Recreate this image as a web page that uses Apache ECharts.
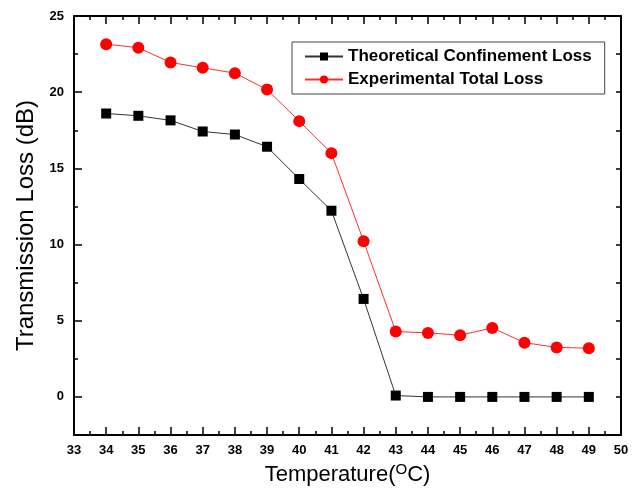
<!DOCTYPE html>
<html><head><meta charset="utf-8">
<script src="https://cdn.jsdelivr.net/npm/echarts@6/dist/echarts.min.js"></script>
<style>html,body{margin:0;padding:0;background:#fff}#c{width:641px;height:491px}</style>
</head><body><div id="c"></div>
<script>
var temps = [34,35,36,37,38,39,40,41,42,43,44,45,46,47,48,49];
var theoretical = [18.6,18.45,18.15,17.42,17.22,16.42,14.3,12.22,6.43,0.09,0,0,0,0,0,0];
var experimental = [23.15,22.92,21.95,21.6,21.25,20.17,18.1,16.0,10.22,4.29,4.2,4.05,4.53,3.56,3.25,3.2];
var yMajor = [0,5,10,15,20,25];
var yMinor = [-2.5,2.5,7.5,12.5,17.5,22.5];

function pairs(xs, ys){ return xs.map(function(x,i){return [x, ys[i]];}); }

var chart = echarts.init(document.getElementById('c'), null, {renderer:'canvas'});
var font = 'Liberation Sans, Arial, sans-serif';
chart.setOption({
  backgroundColor:'#fff',
  animation:false,
  grid:{left:74,right:20,top:16,bottom:56},
  legend:{
    orient:'vertical', left:292, top:42,
    padding:[6,13,6,12], itemGap:6, itemWidth:38, itemHeight:10,
    borderColor:'#444', borderWidth:1, backgroundColor:'#fff',
    textStyle:{fontFamily:font,fontWeight:'bold',fontSize:17,color:'#000'},
    data:['Theoretical Confinement Loss','Experimental Total Loss']
  },
  xAxis:[{
    type:'value', min:33, max:50, interval:1, position:'bottom',
    name:'Temperature({sup|O}C)', nameLocation:'middle', nameGap:25,
    nameTextStyle:{fontFamily:font,fontSize:22,color:'#000',
      rich:{sup:{fontFamily:font,fontSize:15,verticalAlign:'top',padding:[0,0,11,0],color:'#000'}}},
    axisLine:{show:true,onZero:false,lineStyle:{color:'#000',width:2}},
    axisTick:{show:true,inside:true,length:8,lineStyle:{color:'#000',width:1.5}},
    minorTick:{show:true,splitNumber:2,length:4,lineStyle:{color:'#000',width:1.5}},
    axisLabel:{fontFamily:font,fontWeight:'bold',fontSize:13,color:'#000',margin:9},
    splitLine:{show:false}
  },{
    type:'value', min:33, max:50, interval:1, position:'top',
    axisLine:{show:true,onZero:false,lineStyle:{color:'#000',width:2}},
    axisTick:{show:true,inside:true,length:8,lineStyle:{color:'#000',width:1.5}},
    minorTick:{show:true,splitNumber:2,length:4,lineStyle:{color:'#000',width:1.5}},
    axisLabel:{show:false}, splitLine:{show:false}
  }],
  yAxis:[{
    type:'value', min:-2.5, max:25, position:'left',
    name:'Transmission Loss (dB)', nameLocation:'middle', nameGap:35,
    nameTextStyle:{fontFamily:font,fontSize:24,color:'#000'},
    axisLine:{show:true,onZero:false,lineStyle:{color:'#000',width:2}},
    axisTick:{show:true,inside:true,length:8,customValues:yMajor,lineStyle:{color:'#000',width:1.5}},
    axisLabel:{fontFamily:font,fontWeight:'bold',fontSize:13,color:'#000',margin:10,customValues:yMajor},
    splitLine:{show:false}
  },{
    type:'value', min:-2.5, max:25, position:'left',
    axisLine:{show:false,onZero:false},
    axisTick:{show:true,inside:true,length:4,customValues:yMinor,lineStyle:{color:'#000',width:1.5}},
    axisLabel:{show:false,customValues:yMinor}, splitLine:{show:false}
  },{
    type:'value', min:-2.5, max:25, position:'right',
    axisLine:{show:true,onZero:false,lineStyle:{color:'#000',width:2}},
    axisTick:{show:true,inside:true,length:5,customValues:yMinor.concat(yMajor),lineStyle:{color:'#000',width:1.5}},
    axisLabel:{show:false,customValues:yMajor}, splitLine:{show:false}
  }],
  series:[{
    name:'Theoretical Confinement Loss', type:'line', data:pairs(temps,theoretical),
    symbol:'rect', symbolSize:10, itemStyle:{color:'#000'},
    lineStyle:{color:'#333',width:1}
  },{
    name:'Experimental Total Loss', type:'line', data:pairs(temps,experimental),
    symbol:'circle', symbolSize:12, itemStyle:{color:'#ff0000'},
    lineStyle:{color:'#ff3030',width:1}
  }]
});
</script></body></html>
